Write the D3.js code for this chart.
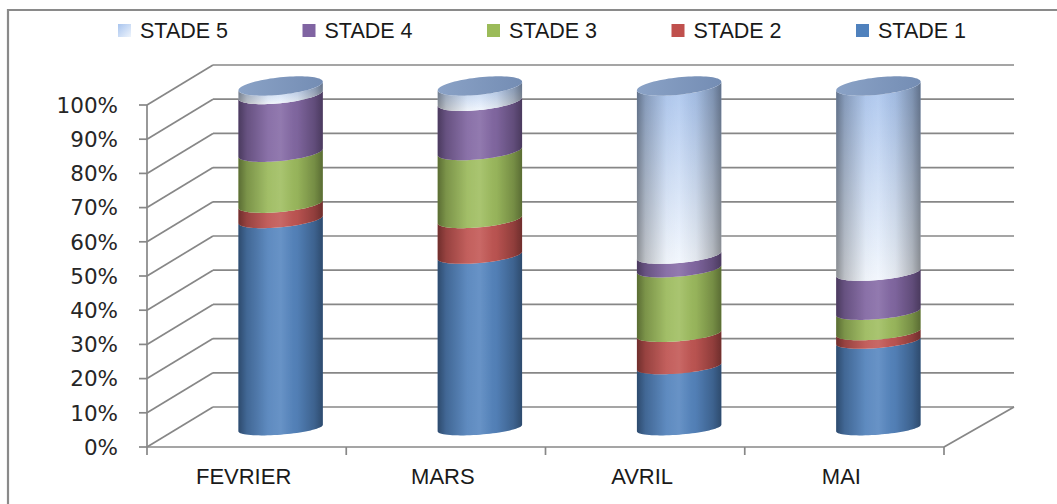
<!DOCTYPE html>
<html><head><meta charset="utf-8">
<script src="https://cdn.jsdelivr.net/npm/d3@7"></script>
<style>html,body{margin:0;padding:0;background:#fff;overflow:hidden}</style>
</head><body>
<svg id="chart" width="1057" height="504"></svg>
<script>
// ---- data ----
const categories = ["FEVRIER", "MARS", "AVRIL", "MAI"];
const seriesNames = ["STADE 1", "STADE 2", "STADE 3", "STADE 4", "STADE 5"];
const stade1 = [61, 50.5, 18, 25.5];
const stade2 = [4.5, 10.5, 9.5, 2.5];
const stade3 = [15, 20, 19, 6];
const stade4 = [17, 14.5, 4, 11.5];
const stade5 = [2.5, 4.5, 49.5, 54.5];
const yTickValues = [0, 0.1, 0.2, 0.3, 0.4, 0.5, 0.6, 0.7, 0.8, 0.9, 1];
const yTickLabels = ["0%", "10%", "20%", "30%", "40%", "50%", "60%", "70%", "80%", "90%", "100%"];
const legendOrder = ["STADE 5", "STADE 4", "STADE 3", "STADE 2", "STADE 1"];

// ---- style ----
const colors = {"STADE 1": "#4F81BD", "STADE 2": "#C0504D", "STADE 3": "#9BBB59", "STADE 4": "#8064A2", "STADE 5": "#C6D9F1"};
const gridColor = "#878787";

const rows = categories.map((c, i) => ({cat: c, "STADE 1": stade1[i], "STADE 2": stade2[i], "STADE 3": stade3[i], "STADE 4": stade4[i], "STADE 5": stade5[i]}));
const stacked = d3.stack().keys(seriesNames).offset(d3.stackOffsetExpand)(rows);

const svg = d3.select("#chart");
const defs = svg.append("defs");

// scales (front plane)
const x = d3.scaleBand().domain(categories).range([147, 944]).padding(0);
const y = d3.scaleLinear().domain([0, 1]).range([447, 105]);
const depth = {dx: 66, dy: -40};
const cyl = {dx: 34, dy: -19, R: 42.2, b: 18.6, cBase: 7.4, cTop: 9.7};
cyl.a = Math.sqrt(cyl.R * cyl.R - cyl.b * cyl.b);
const t0 = Math.atan2(cyl.b, cyl.a);

// border
svg.append("path").attr("d", "M8,520 L8,10 L1070,10").attr("fill", "none").attr("stroke", "#8a8a8a").attr("stroke-width", 2.2);

// ---- grid / walls ----
const g = svg.append("g").attr("stroke", gridColor).attr("stroke-width", 1.7).attr("fill", "none");
const xL = x.range()[0], xR = x.range()[1];
yTickValues.forEach(v => {
  const yy = y(v);
  g.append("line").attr("x1", xL).attr("y1", yy).attr("x2", xL + depth.dx).attr("y2", yy + depth.dy);
  g.append("line").attr("x1", xL + depth.dx).attr("y1", yy + depth.dy).attr("x2", xR + depth.dx + 4).attr("y2", yy + depth.dy);
});
g.append("line").attr("x1", xL).attr("y1", y(0)).attr("x2", xR).attr("y2", y(0));
g.append("line").attr("x1", xR).attr("y1", y(0)).attr("x2", xR + depth.dx + 4).attr("y2", y(0) + depth.dy);
g.append("line").attr("x1", xL).attr("y1", y(0)).attr("x2", xL).attr("y2", y(1));
yTickValues.forEach(v => g.append("line").attr("x1", xL - 8).attr("x2", xL).attr("y1", y(v)).attr("y2", y(v)));
const bounds = categories.map(c => x(c)).concat([xR]);
bounds.forEach(bx => g.append("line").attr("x1", bx).attr("x2", bx).attr("y1", y(0)).attr("y2", y(0) + 8));

// y labels
svg.append("g").selectAll("text").data(yTickValues).join("text")
  .attr("x", 118).attr("y", d => y(d)).attr("dy", "0.36em")
  .attr("text-anchor", "end").attr("font-family", "DejaVu Sans, Verdana, sans-serif")
  .attr("font-size", 21.5).attr("fill", "#262626")
  .text((d, i) => yTickLabels[i]);

// x labels
svg.append("g").selectAll("text").data(categories).join("text")
  .attr("x", d => x(d) + x.bandwidth() / 2 - 3).attr("y", 476).attr("dy", "0.36em")
  .attr("text-anchor", "middle").attr("font-family", "Liberation Sans, Arial, sans-serif")
  .attr("font-size", 22).attr("fill", "#1a1a1a")
  .text(d => d);

// ---- gradients ----
const shade = defs.append("linearGradient").attr("id", "shade").attr("x1", 0).attr("x2", 1).attr("y1", 0).attr("y2", 0);
[[0, 0.42], [0.1, 0.22], [0.35, 0.02], [0.5, 0], [0.7, 0.06], [0.9, 0.25], [1, 0.42]].forEach(([o, a]) =>
  shade.append("stop").attr("offset", o).attr("stop-color", "#000").attr("stop-opacity", a));
const hl = defs.append("linearGradient").attr("id", "hl").attr("x1", 0).attr("x2", 1).attr("y1", 0).attr("y2", 0);
[[0, 0], [0.35, 0.10], [0.5, 0.14], [0.65, 0.05], [1, 0]].forEach(([o, a]) =>
  hl.append("stop").attr("offset", o).attr("stop-color", "#fff").attr("stop-opacity", a));
const s5 = defs.append("linearGradient").attr("id", "s5grad").attr("x1", 0).attr("x2", 0).attr("y1", 0).attr("y2", 1);
s5.append("stop").attr("offset", 0).attr("stop-color", "#a3c0ec");
s5.append("stop").attr("offset", 1).attr("stop-color", "#f1f6fd");
const capG = defs.append("linearGradient").attr("id", "capgrad").attr("x1", 0).attr("x2", 1).attr("y1", 0).attr("y2", 0);
capG.append("stop").attr("offset", 0).attr("stop-color", "#8aa2c6");
capG.append("stop").attr("offset", 1).attr("stop-color", "#748db4");
const legS5 = defs.append("linearGradient").attr("id", "legs5").attr("x1", 0).attr("x2", 1).attr("y1", 0).attr("y2", 1);
legS5.append("stop").attr("offset", 0).attr("stop-color", "#a8c4ee");
legS5.append("stop").attr("offset", 1).attr("stop-color", "#eef4fc");

// ---- cylinders ----
function cAt(v) { return cyl.cBase + (cyl.cTop - cyl.cBase) * v; }
function ellPt(cx, cy, c, t) { return [cx + cyl.a * Math.cos(t) + cyl.b * Math.sin(t), cy - c * Math.sin(t)]; }
function frontHalf(cx, v, reverse) {
  const cy = y(v) + cyl.dy, c = cAt(v), pts = [];
  const n = 40;
  for (let k = 0; k <= n; k++) {
    const t = Math.PI + t0 + Math.PI * k / n;
    pts.push(ellPt(cx, cy, c, t));
  }
  return reverse ? pts.reverse() : pts;
}
function segPath(cx, v0, v1) {
  const top = frontHalf(cx, v1, false);
  const bot = frontHalf(cx, v0, true);
  return "M" + top.concat(bot).map(p => p[0].toFixed(2) + "," + p[1].toFixed(2)).join("L") + "Z";
}
function fullEllipse(cx, v) {
  const cy = y(v) + cyl.dy, c = cAt(v), pts = [];
  for (let k = 0; k < 80; k++) pts.push(ellPt(cx, cy, c, 2 * Math.PI * k / 80));
  return "M" + pts.map(p => p[0].toFixed(2) + "," + p[1].toFixed(2)).join("L") + "Z";
}

const cylG = svg.append("g");
categories.forEach((cat, j) => {
  const cx = x(cat) + x.bandwidth() / 2 + cyl.dx;
  const gc = cylG.append("g");
  stacked.forEach(layer => {
    const [v0, v1] = layer[j];
    if (v1 - v0 <= 0) return;
    const d = segPath(cx, v0, v1);
    const fill = layer.key === "STADE 5" ? "url(#s5grad)" : colors[layer.key];
    gc.append("path").attr("d", d).attr("fill", fill);
    gc.append("path").attr("d", d).attr("fill", "url(#hl)");
    gc.append("path").attr("d", d).attr("fill", "url(#shade)");
  });
  gc.append("path").attr("d", fullEllipse(cx, 1)).attr("fill", "url(#capgrad)");
});

// ---- legend ----
const leg = svg.append("g");
legendOrder.forEach((name, i) => {
  const lx = 118 + i * 184.5;
  leg.append("rect").attr("x", lx).attr("y", 24).attr("width", 13).attr("height", 13)
    .attr("fill", name === "STADE 5" ? "url(#legs5)" : colors[name]);
  leg.append("text").attr("x", lx + 22).attr("y", 30.5).attr("dy", "0.36em")
    .attr("font-family", "Liberation Sans, Arial, sans-serif").attr("font-size", 21.5).attr("fill", "#1a1a1a")
    .text(name);
});
</script>
</body></html>
